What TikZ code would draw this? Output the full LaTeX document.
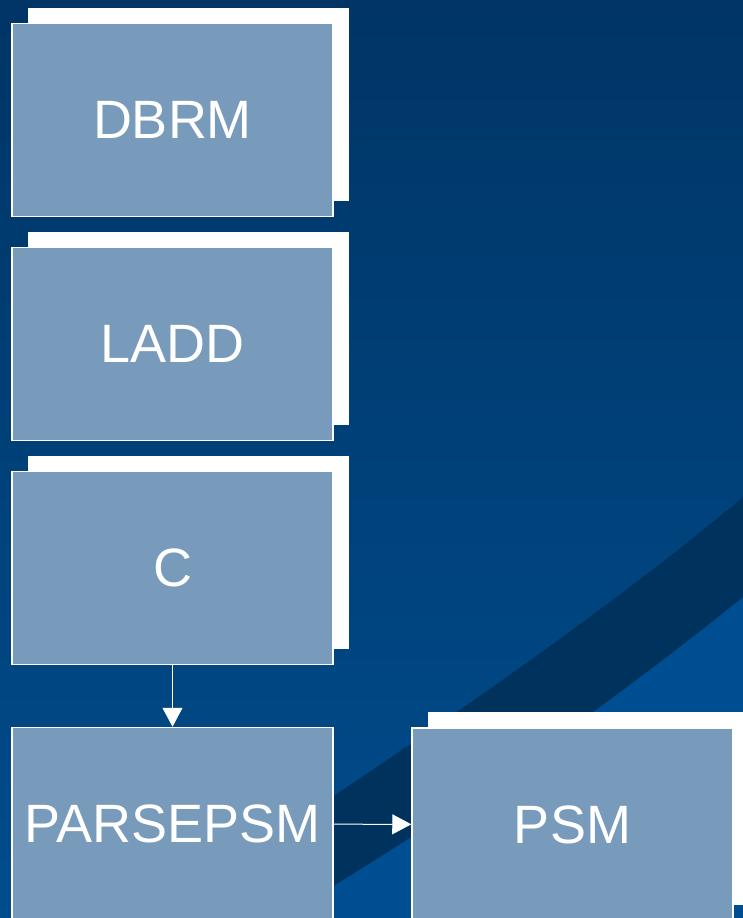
\documentclass[tikz,border=0pt]{standalone}
\usepackage{fontspec}
\setmainfont{Liberation Sans}
\usepackage{tikz}
\usetikzlibrary{arrows.meta,shadows}
\definecolor{bgtop}{RGB}{0,53,102}
\definecolor{bgbot}{RGB}{0,76,140}
\definecolor{swoosh}{RGB}{0,50,94}
\definecolor{swooshlow}{RGB}{0,78,146}
\definecolor{boxblue}{RGB}{120,154,187}

\begin{document}
\begin{tikzpicture}[x=1pt,y=-1pt]
\tikzstyle{block}=[rectangle,draw=white,line width=1.5pt,fill=boxblue,minimum width=321pt,minimum height=193pt,inner sep=0pt,text=white,font=\fontsize{54}{60}\selectfont]
\tikzstyle{shadowed}=[copy shadow={shadow xshift=16pt,shadow yshift=16pt,fill=white,draw=none}]
\tikzstyle{flow}=[-{Triangle[width=20pt,length=19pt]},line width=1pt,white]

% background
\useasboundingbox (0,0) rectangle (743,918);
\shade[top color=bgtop,bottom color=bgbot] (0,0) rectangle (743,918);
\fill[swooshlow] (743,597) .. controls (640,680) and (480,800) .. (280,918) -- (743,918) -- cycle;
\fill[swoosh] (150,918) .. controls (250,850) and (550,660) .. (743,497) -- (743,597)
  .. controls (640,680) and (480,800) .. (280,918) -- cycle;

\node[block,shadowed] (aD) at (172.5,120) {DBRM};
\node[block,shadowed] (aL) at (172.5,344) {LADD};
\node[block,shadowed] (aC) at (172.5,568) {C};
\node[block] (aP) at (172.5,824) {PARSEPSM};
\node[block,shadowed] (bP) at (572.5,824.5) {PSM};

\draw[flow] (aC) -- (aP);
\draw[flow] (aP) -- (bP);
\end{tikzpicture}
\end{document}
